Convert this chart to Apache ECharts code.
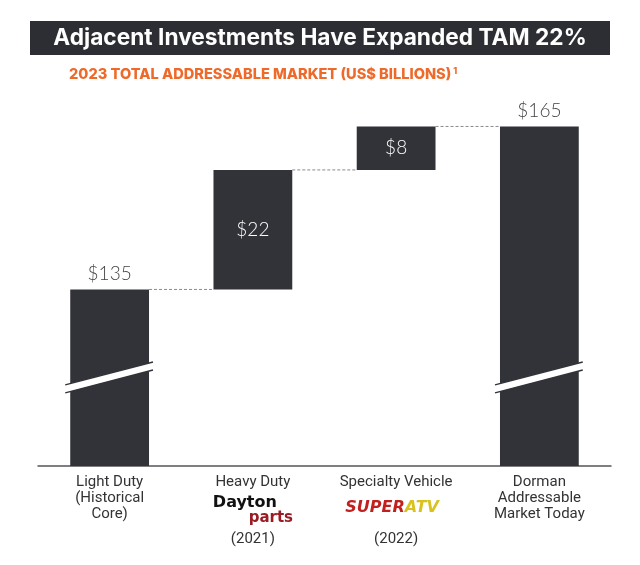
<!DOCTYPE html>
<html>
<head>
<meta charset="utf-8">
<script src="https://cdn.jsdelivr.net/npm/echarts@6/dist/echarts.min.js"></script>
<style>
  html, body { margin: 0; padding: 0; background: #fff; }
  #chart { width: 640px; height: 565px; }
</style>
</head>
<body>
<div id="chart"></div>
<script>
// data
const categories = ['Light Duty\n(Historical\nCore)', 'Heavy Duty', 'Specialty Vehicle', 'Dorman\nAddressable\nMarket Today'];
const logos = ['', 'dayton', 'superatv', ''];
const years = ['', '(2021)', '(2022)', ''];
const values = [135, 22, 8, 165];
const isTotal = [true, false, false, true];
const valueLabels = ['$135', '$22', '$8', '$165'];

const Y_MIN = 102.5, Y_MAX = 170;   // axis is broken, so it does not start at 0
const BREAK_AT = 118.8;             // where the slash sits on the total bars
const BAR_RATIO = 0.55;
const DARK = '#313338';

// waterfall: invisible base + visible part
const base = [], tops = [];
let running = 0;
values.forEach((v, i) => {
  if (isTotal[i]) { base.push(0); running = v; }
  else { base.push(running); running += v; }
  tops.push(running);
});
const connectors = tops.slice(0, -1).map((t, i) => [i, t]);
const breaks = values.map((v, i) => isTotal[i] ? [i, BREAK_AT] : null).filter(Boolean);

const chart = echarts.init(document.getElementById('chart'));

function renderConnector(params, api) {
  const c = api.coord([api.value(0), api.value(1)]);
  const band = api.size([1, 0])[0];
  const hw = band * BAR_RATIO / 2;
  return {
    type: 'line',
    shape: { x1: c[0] + hw, y1: c[1], x2: c[0] + band - hw, y2: c[1] },
    style: { stroke: '#8a8a8a', lineWidth: 1, lineDash: [3, 2] }
  };
}

function renderBreak(params, api) {
  const c = api.coord([api.value(0), api.value(1)]);
  const hw = api.size([1, 0])[0] * BAR_RATIO / 2;
  const x1 = c[0] - hw - 5, x2 = c[0] + hw + 4;
  const rise = (x2 - x1) * 0.26;
  const g = 4;
  const y1 = c[1] + rise / 2, y2 = c[1] - rise / 2;
  return {
    type: 'group',
    children: [
      { type: 'polygon', shape: { points: [[x1, y1 - g], [x2, y2 - g], [x2, y2 + g], [x1, y1 + g]] }, style: { fill: '#fff' } },
      { type: 'line', shape: { x1: x1, y1: y1 - g, x2: x2, y2: y2 - g }, style: { stroke: DARK, lineWidth: 1.5 } },
      { type: 'line', shape: { x1: x1, y1: y1 + g, x2: x2, y2: y2 + g }, style: { stroke: DARK, lineWidth: 1.5 } }
    ]
  };
}

chart.setOption({
  animation: false,
  graphic: [{
    type: 'rect',
    shape: { x: 30, y: 21, width: 580, height: 34 },
    style: { fill: '#2c2e33' },
    z: -1
  }],
  title: [{
    text: 'Adjacent Investments Have Expanded TAM 22%',
    left: 'center',
    top: 26,
    padding: 0,
    textStyle: { color: '#fff', fontFamily: 'Inter', fontWeight: 700, fontSize: 22.7, lineHeight: 24 }
  }, {
    text: '{a|2023 TOTAL ADDRESSABLE MARKET (US$ BILLIONS)}{s|1}',
    left: 69,
    top: 66,
    padding: 0,
    textStyle: {
      rich: {
        a: { color: '#ee6a2a', fontFamily: 'Inter', fontWeight: 800, fontSize: 14.6, lineHeight: 18 },
        s: { color: '#ee6a2a', fontFamily: 'Inter', fontWeight: 800, fontSize: 9, lineHeight: 18, padding: [0, 0, 8, 2] }
      }
    }
  }],
  grid: { left: 38, right: 29, top: 99.3, bottom: 99 },
  xAxis: {
    type: 'category',
    data: categories,
    axisLine: { lineStyle: { color: '#555', width: 1.5 } },
    axisTick: { show: false },
    axisLabel: {
      interval: 0,
      margin: 8,
      color: '#333',
      fontFamily: 'Roboto',
      fontSize: 15,
      lineHeight: 16,
      formatter: (name, i) => {
        let s = name;
        if (logos[i] === 'dayton') s += '\n{d|Dayton}\n{p|parts}';
        if (logos[i] === 'superatv') s += '\n{sa|SUPER}{sb|ATV}';
        if (years[i]) s += '\n{y|' + years[i] + '}';
        return s;
      },
      rich: {
        d: { fontFamily: 'DejaVu Sans', fontWeight: 900, fontSize: 16, color: '#111', lineHeight: 22, padding: [4, 16, 0, 0] },
        p: { fontFamily: 'DejaVu Sans', fontWeight: 900, fontSize: 15, color: '#9b1b22', lineHeight: 12, padding: [0, 0, 0, 36] },
        sa: { fontFamily: 'DejaVu Sans', fontStyle: 'italic', fontWeight: 900, fontSize: 16, color: '#c0201e', lineHeight: 34, padding: [6, 0, 4, 0] },
        sb: { fontFamily: 'DejaVu Sans', fontStyle: 'italic', fontWeight: 900, fontSize: 16, color: '#d9c21d', lineHeight: 34, padding: [6, 8, 4, 0] },
        y: { fontFamily: 'Roboto', fontSize: 15, color: '#333', lineHeight: 22, padding: [8, 0, 0, 0] }
      }
    }
  },
  yAxis: {
    type: 'value',
    min: Y_MIN,
    max: Y_MAX,
    show: false
  },
  series: [{
    type: 'bar',
    stack: 'w',
    data: base,
    barWidth: (BAR_RATIO * 100) + '%',
    itemStyle: { color: 'transparent' },
    silent: true
  }, {
    type: 'bar',
    stack: 'w',
    barWidth: (BAR_RATIO * 100) + '%',
    itemStyle: { color: DARK },
    data: values.map((v, i) => ({
      value: v,
      label: {
        show: true,
        position: isTotal[i] ? 'top' : 'inside',
        distance: 6,
        color: isTotal[i] ? '#444' : '#fff',
        fontFamily: 'Lato',
        fontWeight: 300,
        fontSize: 19,
        formatter: () => valueLabels[i]
      }
    }))
  }, {
    type: 'custom',
    data: connectors,
    encode: { x: 0, y: 1 },
    renderItem: renderConnector,
    z: 3
  }, {
    type: 'custom',
    data: breaks,
    encode: { x: 0, y: 1 },
    renderItem: renderBreak,
    z: 4
  }]
});
</script>
</body>
</html>
